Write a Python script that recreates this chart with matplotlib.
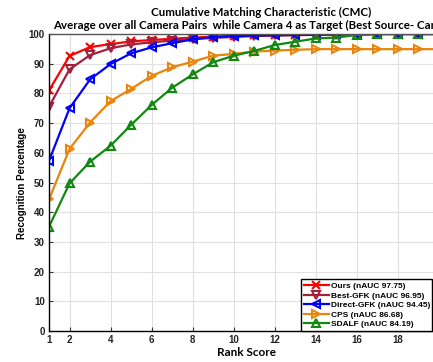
import matplotlib
matplotlib.use("Agg")
import matplotlib.pyplot as plt
import numpy as np

ranks = list(range(1, 21))
ours = [81.0, 92.6, 95.6, 96.6, 97.5, 98.0, 98.4, 98.8, 99.1, 99.3, 99.5, 99.6, 99.7, 99.8, 99.9, 99.9, 100, 100, 100, 100]
best_gfk = [75.5, 88.1, 92.9, 95.2, 96.5, 97.2, 97.8, 98.3, 98.7, 99.0, 99.3, 99.5, 99.6, 99.7, 99.8, 99.9, 100, 100, 100, 100]
direct_gfk = [57.3, 75.0, 84.7, 89.9, 93.5, 95.5, 96.9, 98.2, 99.0, 99.3, 99.5, 99.6, 99.7, 99.8, 99.9, 99.9, 100, 100, 100, 100]
cps = [44.3, 61.3, 70.2, 77.4, 81.5, 85.9, 88.8, 90.7, 92.7, 93.3, 94.1, 94.4, 94.7, 94.9, 94.9, 94.9, 94.9, 94.9, 94.9, 94.9]
sdalf = [35.1, 49.7, 57.0, 62.4, 69.4, 76.1, 81.9, 86.4, 90.5, 92.7, 94.3, 96.3, 97.4, 98.5, 98.8, 99.7, 100, 100, 100, 100]

labels = ["Ours (nAUC 97.75)", "Best-GFK (nAUC 96.95)", "Direct-GFK (nAUC 94.45)",
          "CPS (nAUC 86.68)", "SDALF (nAUC 84.19)"]
colors = ["#ff0000", "#a2203c", "#0000ff", "#e8850a", "#118811"]
markers = ["x", "v", "<", ">", "^"]
series = [ours, best_gfk, direct_gfk, cps, sdalf]

xticks = [1, 2, 4, 6, 8, 10, 12, 14, 16, 18]
yticks = list(range(0, 101, 10))

W, H = 433, 362
fig = plt.figure(figsize=(W / 100, H / 100), dpi=100)
ax = fig.add_axes([49 / W, 1 - 331 / H, (439 - 49) / W, (331 - 34) / H])

handles = []
for vals, lab, c, m in zip(series, labels, colors, markers):
    h, = ax.plot(ranks, vals, color=c, marker=m, lw=1.6, ms=6,
                 mfc="none" if m != "x" else c, mec=c, mew=1.5, label=lab)
    handles.append(h)

ax.set_xlim(1, 20)
ax.set_ylim(0, 100)
ax.set_xticks(xticks)
ax.set_yticks(yticks)
ax.grid(True, color="#e0e0e0", lw=0.8)
ax.set_axisbelow(True)
ax.tick_params(direction="in", length=3, width=0.8, colors="#333333", labelsize=7, pad=3)
for lbl in ax.get_xticklabels() + ax.get_yticklabels():
    lbl.set_fontfamily("Liberation Sans")
    lbl.set_fontweight("bold")
    lbl.set_color("#222222")
for s in ["left", "bottom"]:
    ax.spines[s].set_color("black")
    ax.spines[s].set_linewidth(1.0)
for s in ["top", "right"]:
    ax.spines[s].set_color("#555555")
    ax.spines[s].set_linewidth(1.0)

fig.text(22 / W, 1 - 183 / H, "Recognition Percentage", rotation=90, ha="center", va="center",
         fontsize=7, fontweight="bold", family="Liberation Sans")
fig.text(247 / W, 1 - 353 / H, "Rank Score", ha="center", va="center",
         fontsize=8.5, fontweight="bold", family="Lato")
fig.text(261 / W, 1 - 12 / H, "Cumulative Matching Characteristic (CMC)", ha="center", va="center",
         fontsize=8.3, fontweight="bold", family="Lato")
fig.text(261 / W, 1 - 25 / H,
         "Average over all Camera Pairs  while Camera 4 as Target (Best Source- Camera 3)",
         ha="center", va="center", fontsize=8.3, fontweight="bold", family="Lato")

leg = fig.legend(handles=handles, loc="lower left",
                 bbox_to_anchor=(301 / W, 1 - 331 / H, (432 - 301) / W, (331 - 277) / H),
                 mode="expand", prop={"family": "Liberation Sans", "weight": "bold", "size": 6.0},
                 handlelength=3.0, handletextpad=0.3, labelspacing=0.2, borderpad=0.35,
                 borderaxespad=0, fancybox=False, framealpha=1, edgecolor="black")
leg.get_frame().set_linewidth(1.0)

fig.savefig("out.png", dpi=100)
